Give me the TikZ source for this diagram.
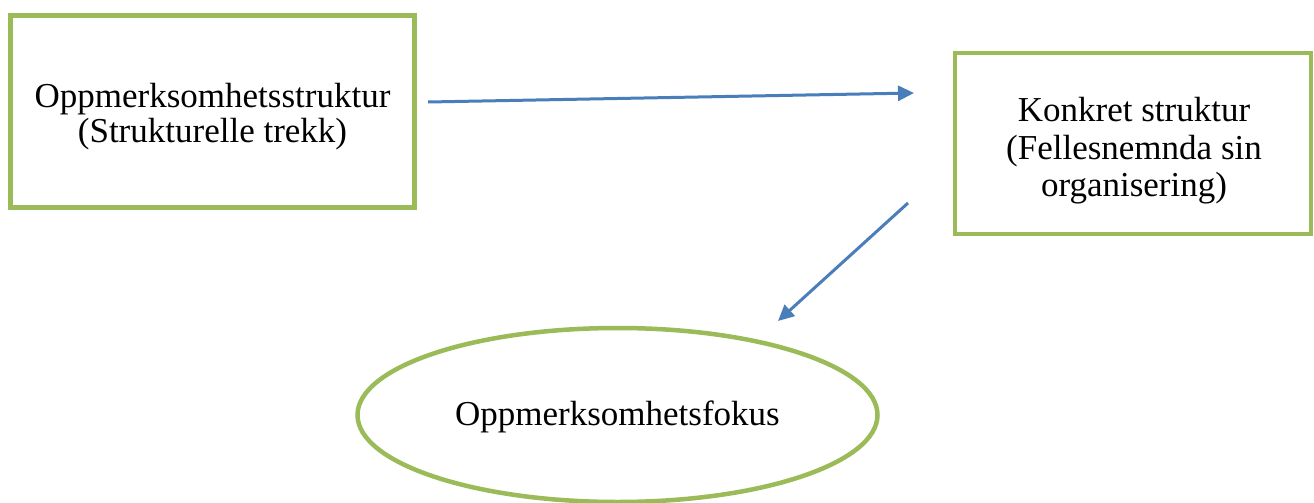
\documentclass[tikz,border=0pt]{standalone}
\usepackage{fontspec}
\setmainfont{Liberation Serif}
\usetikzlibrary{arrows.meta,shapes.geometric}
\definecolor{boxgreen}{HTML}{9BBB59}
\definecolor{arrowblue}{HTML}{4A7EBB}
\tikzset{
  greenbox/.style={draw=boxgreen, line width=4.5pt, fill=white, rectangle, inner sep=0pt, align=center, font=\fontsize{35}{36}\selectfont},
  greenoval/.style={draw=boxgreen, line width=4.5pt, fill=white, ellipse, inner sep=0pt, align=center, font=\fontsize{35}{36}\selectfont},
  bluearrow/.style={draw=arrowblue, line width=3pt, -{Triangle[length=16pt,width=15pt]}}
}
\begin{document}
\begin{tikzpicture}[x=1pt,y=-1pt]
\useasboundingbox[fill=white] (0,0) rectangle (1314,503);
\node[greenbox, minimum width=404pt, minimum height=192pt] (oppstr) at (212.5,111.5) {};
\node[align=center, font=\fontsize{35}{35}\selectfont, inner sep=0pt] (oppstrtxt) at (212.5,117) {Oppmerksomhetsstruktur\\(Strukturelle trekk)};
\node[greenbox, minimum width=356pt, minimum height=181pt] (konkret) at (1133,143.5) {};
\node[align=center, font=\fontsize{35}{37.5}\selectfont, inner sep=0pt] (konkrettxt) at (1134,151) {Konkret struktur\\(Fellesnemnda sin\\organisering)};
\node[greenoval, minimum width=520pt, minimum height=174pt] (fokus) at (617.5,415) {};
\node[font=\fontsize{35}{35}\selectfont, inner sep=0pt] (fokustxt) at (617.5,417) {Oppmerksomhetsfokus};
\coordinate (a1s) at (428,102);
\coordinate (a1e) at (914,93);
\coordinate (a2s) at (908,203);
\coordinate (a2e) at (778,321);
\draw[bluearrow] (a1s) -- (a1e);
\draw[bluearrow] (a2s) -- (a2e);
\end{tikzpicture}
\end{document}
